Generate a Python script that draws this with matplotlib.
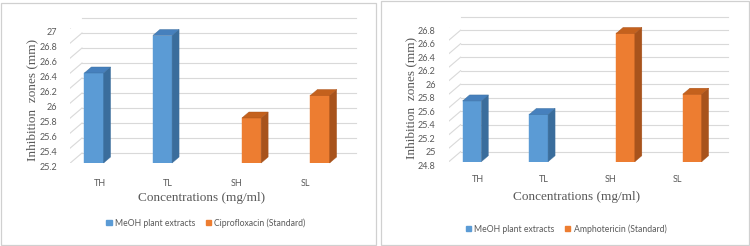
import matplotlib.pyplot as plt
from matplotlib.patches import Polygon, Rectangle, Patch
from matplotlib.lines import Line2D
from matplotlib.transforms import ScaledTranslation

# chart data
categories = ['TH', 'TL', 'SH', 'SL']
left_extract = [26.4, 26.9, None, None]
left_standard = [None, None, 25.8, 26.1]
left_ticks = [25.2, 25.4, 25.6, 25.8, 26.0, 26.2, 26.4, 26.6, 26.8, 27.0]
left_ticklabels = ['25.2', '25.4', '25.6', '25.8', '26', '26.2', '26.4', '26.6', '26.8', '27']

right_extract = [25.7, 25.5, None, None]
right_standard = [None, None, 26.7, 25.8]
right_ticks = [24.8, 25.0, 25.2, 25.4, 25.6, 25.8, 26.0, 26.2, 26.4, 26.6, 26.8]
right_ticklabels = ['24.8', '25', '25.2', '25.4', '25.6', '25.8', '26', '26.2', '26.4', '26.6', '26.8']

W, H = 750, 246
DPI = 100
fig = plt.figure(figsize=(W / DPI, H / DPI), dpi=DPI)

TICK_FONT = 'Lato'
SERIF = 'Liberation Serif'
GRID = '#d9d9d9'
TXT = '#595959'

blue = ('#5b9bd5', '#3a6d9c', '#4680bd')   # front, side, top
orange = ('#ed7d31', '#a8531c', '#c4611d')


def px(ax, x, y):
    return ax.transData.transform((x, y))


def off(dx, dy):
    return ScaledTranslation(dx / DPI, dy / DPI, fig.dpi_scale_trans)


def panel(box, ax_px, ticks, ticklabels, extract, standard, std_name, ylab_x, xlab_xy, cat_y, leg_xy):
    x0, x1, yb, yt = ax_px
    fig.patches.append(Rectangle((box[0] / W, 1 - box[3] / H), (box[2] - box[0]) / W,
                                 (box[3] - box[1]) / H, transform=fig.transFigure,
                                 fill=False, edgecolor='#d0d0d0', lw=0.9))
    ax = fig.add_axes([x0 / W, 1 - yb / H, (x1 - x0) / W, (yb - yt) / H])
    ax.set_xlim(-0.5, 3.5)
    ax.set_ylim(ticks[0], ticks[-1])
    ax.axis('off')

    # back wall gridlines with the diagonal side edge
    for t, lab in zip(ticks, ticklabels):
        ax.plot([-0.5, 3.5], [t, t], color=GRID, lw=0.8, zorder=1, clip_on=False,
                transform=ax.transData + off(12, 10))
        a = px(ax, -0.5, t)
        ax.add_line(Line2D([a[0] - 5, a[0] + 12], [a[1] - 4.5, a[1] + 10], color=GRID,
                           lw=0.8, transform=None, zorder=1))
        ax.text(-0.5, t, lab, ha='right', va='center', fontsize=6.5,
                family=TICK_FONT, color=TXT, transform=ax.transData + off(-13, -4.5))

    base = ticks[0]
    width = 0.28
    for vals, shift, cols in [(extract, -0.15, blue), (standard, 0.15, orange)]:
        xs = [i + shift for i, v in enumerate(vals) if v is not None]
        hs = [v - base for v in vals if v is not None]
        bars = ax.bar(xs, hs, width=width, bottom=base, color=cols[0], zorder=3,
                      edgecolor=cols[0], lw=0.3)
        for b in bars:
            bl = px(ax, b.get_x(), base)
            tr = px(ax, b.get_x() + b.get_width(), base + b.get_height())
            dx, dy = 7, 6
            side = [(tr[0], bl[1]), (tr[0], tr[1]), (tr[0] + dx, tr[1] + dy), (tr[0] + dx, bl[1] + dy)]
            top = [(bl[0], tr[1]), (tr[0], tr[1]), (tr[0] + dx, tr[1] + dy), (bl[0] + dx, tr[1] + dy)]
            ax.add_patch(Polygon(side, closed=True, transform=None, facecolor=cols[1],
                                 edgecolor=cols[1], lw=0.3, zorder=3, clip_on=False))
            ax.add_patch(Polygon(top, closed=True, transform=None, facecolor=cols[2],
                                 edgecolor=cols[1], lw=0.3, zorder=3, clip_on=False))

    for i, c in enumerate(categories):
        ax.text(i, 0, c, ha='center', va='center', fontsize=6.5, family=TICK_FONT, color=TXT,
                transform=ax.get_xaxis_transform() + off(-4.5, -(cat_y - yb)))

    fig.text(ylab_x / W, 1 - ((yt + yb) / 2 + 4) / H, 'Inhibition  zones (mm)', rotation=90,
             ha='center', va='center', fontsize=9.5, family=SERIF, color=TXT)
    fig.text(xlab_xy[0] / W, 1 - xlab_xy[1] / H, 'Concentrations (mg/ml)', ha='center',
             va='center', fontsize=9.5, family=SERIF, color=TXT)

    handles = [Patch(color=blue[0], label='MeOH plant extracts'),
               Patch(color=orange[0], label=std_name)]
    fig.legend(handles=handles, loc='center', bbox_to_anchor=(leg_xy[0] / W, 1 - leg_xy[1] / H),
               ncol=2, frameon=False, handlelength=0.6, handleheight=0.6, handletextpad=0.4,
               columnspacing=1.2, prop={'family': TICK_FONT, 'size': 6.2}, labelcolor=TXT)


panel((1, 3, 376, 245), (70, 344, 163, 28), left_ticks, left_ticklabels,
      left_extract, left_standard, 'Ciprofloxacin (Standard)', 32, (202, 198), 183, (206, 223))
panel((381, 1, 749, 245), (448.6, 715.6, 161.7, 26.7), right_ticks, right_ticklabels,
      right_extract, right_standard, 'Amphotericin (Standard)', 411, (577, 197), 180, (566, 229))

fig.savefig('out.png', dpi=DPI)
